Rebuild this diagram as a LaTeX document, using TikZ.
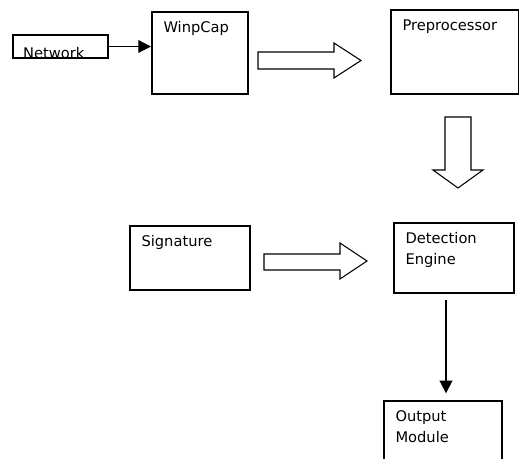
\documentclass[tikz,border=0pt]{standalone}
\usepackage{fontspec}
\setmainfont{DejaVu Sans}
\usetikzlibrary{arrows.meta}
\tikzset{
  box/.style={draw, line width=1.5pt, anchor=north west, inner sep=0pt},
  boxtext/.style={anchor=north west, inner sep=0pt, align=left, xshift=9.2pt, yshift=-7.8pt},
  hollow/.style={draw, line width=0.8pt, line join=miter},
}
\begin{document}
\begin{tikzpicture}[x=0.75pt, y=-0.75pt, font=\fontsize{11}{15.75}\selectfont, >={Triangle[length=9.5pt,width=9.5pt]}]
\useasboundingbox (0,0) rectangle (519,459);
\clip (0,0) rectangle (519,459);
% boxes
\node[box, minimum width=71.25pt, minimum height=17.25pt] (network) at (12,34) {};
\node[box, minimum width=72pt, minimum height=61.5pt, label={[boxtext]north west:WinpCap}] (winpcap) at (151,11) {};
\node[box, minimum width=96pt, minimum height=63pt, label={[boxtext]north west:Preprocessor}] (preproc) at (390,9) {};
\node[box, minimum width=90pt, minimum height=48pt, label={[boxtext]north west:Signature}] (signature) at (129,225) {};
\node[box, minimum width=90pt, minimum height=52.5pt, label={[boxtext]north west:Detection\\Engine}] (detection) at (393,222) {};
\node[box, minimum width=88.5pt, minimum height=50pt, label={[boxtext]north west:Output\\Module}] (output) at (383,400) {};
\begin{scope}
\clip ([yshift=1pt]network.south west) rectangle (network.north east);
\node[anchor=base west, inner sep=0pt] (nettext) at ([xshift=8.2pt, yshift=0.3pt]network.south west) {Network};
\end{scope}
% connectors
\draw[line width=0.9pt, ->] (network.east) -- (network.east -| winpcap.west);
\draw[line width=1.3pt, ->, shorten <=4.5pt, shorten >=5pt] ([xshift=-6pt]detection.south) -- ([xshift=-6pt]detection.south |- output.north);
% hollow arrows
\draw[hollow] (258,52) -- (334,52) -- (334,43) -- (361,60.5) -- (334,78) -- (334,69) -- (258,69) -- cycle;
\draw[hollow] (445,117) -- (471,117) -- (471,170) -- (483,170) -- (458,188) -- (433,170) -- (445,170) -- cycle;
\draw[hollow] (264,254) -- (340,254) -- (340,243) -- (367,261) -- (340,279) -- (340,270) -- (264,270) -- cycle;
\end{tikzpicture}
\end{document}
